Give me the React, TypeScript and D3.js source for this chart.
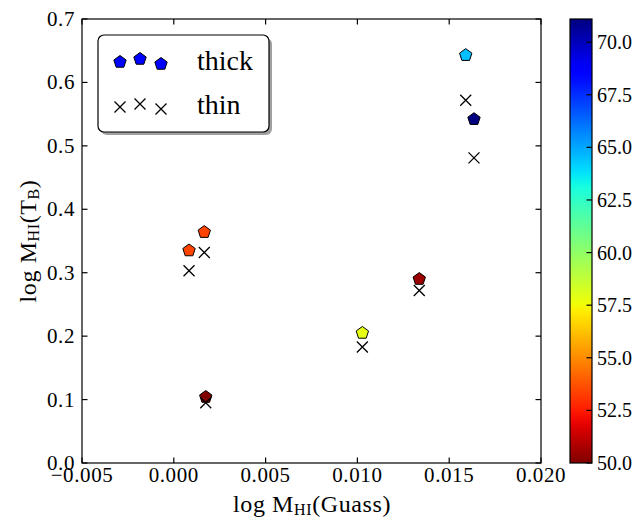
import React from "react";
import * as d3 from "d3";

// ---- data ----
const logMGauss = [0.00083, 0.00166, 0.00174, 0.01027, 0.01337, 0.0159, 0.01635];
const logMThick = [0.335, 0.364, 0.104, 0.205, 0.29, 0.643, 0.542];
const logMThin = [0.303, 0.332, 0.095, 0.183, 0.272, 0.572, 0.481];
const tempValues = [53.4, 53.4, 50.0, 57.8, 50.5, 64.5, 71.1];
const xTicks = [-0.005, 0.0, 0.005, 0.01, 0.015, 0.02];
const yTicks = [0.0, 0.1, 0.2, 0.3, 0.4, 0.5, 0.6, 0.7];
const cbTicks = [50.0, 52.5, 55.0, 57.5, 60.0, 62.5, 65.0, 67.5, 70.0];
const legendLabels = ["thick", "thin"];

const W = 643, H = 522;
const plot = { left: 82, right: 541, top: 19, bottom: 463 };
const cb = { left: 570, right: 592, top: 19, bottom: 463 };
const FONT = "'Liberation Serif', 'Times New Roman', serif";

// matplotlib jet
const jetR = d3.scaleLinear<number>().domain([0, 0.35, 0.66, 0.89, 1]).range([0, 0, 1, 1, 0.5]).clamp(true);
const jetG = d3.scaleLinear<number>().domain([0, 0.125, 0.375, 0.64, 0.91, 1]).range([0, 0, 1, 1, 0, 0]).clamp(true);
const jetB = d3.scaleLinear<number>().domain([0, 0.11, 0.34, 0.65, 1]).range([0.5, 1, 1, 0, 0]).clamp(true);
const jet = (t: number) =>
  d3.rgb(Math.round(jetR(t) * 255), Math.round(jetG(t) * 255), Math.round(jetB(t) * 255)).toString();

const vmin = 50.0, vmax = 71.1;
const norm = d3.scaleLinear().domain([vmin, vmax]).range([0, 1]).clamp(true);
const colorOf = (v: number) => jet(1 - norm(v)); // jet_r

const x = d3.scaleLinear().domain([-0.005, 0.02]).range([plot.left, plot.right]);
const y = d3.scaleLinear().domain([0, 0.7]).range([plot.bottom, plot.top]);
const yc = d3.scaleLinear().domain([vmin, vmax]).range([cb.bottom, cb.top]);

const pentagon = (cx: number, cy: number, r: number) => {
  const pts = d3.range(5).map((k) => {
    const a = (-90 + k * 72) * (Math.PI / 180);
    return [cx + r * Math.cos(a), cy + r * Math.sin(a)];
  });
  return "M" + pts.map((p) => p.join(",")).join("L") + "Z";
};
const cross = (cx: number, cy: number, s: number) =>
  `M${cx - s},${cy - s}L${cx + s},${cy + s}M${cx - s},${cy + s}L${cx + s},${cy - s}`;

const fmtX = (v: number) => {
  const s = Math.abs(v).toFixed(3);
  return v < -1e-12 ? "\u2212" + s : s;
};
const fmtY = (v: number) => v.toFixed(1);

const TICK = 5.5;

export default function App() {
  const stops = d3.range(0, 1.0001, 0.02);
  const legY = [[62, 59, 64], [107, 104, 109]];
  const legX = [120, 140, 161];
  return (
    <svg width={W} height={H} style={{ position: "absolute", left: 0, top: 0, background: "white" }}>
      <defs>
        <linearGradient id="cbgrad" x1="0" y1="1" x2="0" y2="0">
          {stops.map((t, i) => (
            <stop key={i} offset={t} stopColor={jet(1 - t)} />
          ))}
        </linearGradient>
      </defs>
      <rect width={W} height={H} fill="white" />

      {/* axes frame */}
      <rect x={plot.left} y={plot.top} width={plot.right - plot.left} height={plot.bottom - plot.top}
        fill="none" stroke="black" strokeWidth={1.2} />

      {/* x ticks */}
      {xTicks.map((t, i) => (
        <g key={"xt" + i}>
          <line x1={x(t)} x2={x(t)} y1={plot.bottom} y2={plot.bottom - TICK} stroke="black" strokeWidth={1.2} />
          <line x1={x(t)} x2={x(t)} y1={plot.top} y2={plot.top + TICK} stroke="black" strokeWidth={1.2} />
          <text x={x(t)} y={plot.bottom + 19} textAnchor="middle" fontFamily={FONT} fontSize={21}
            letterSpacing={0.6}>{fmtX(t)}</text>
        </g>
      ))}
      {/* y ticks */}
      {yTicks.map((t, i) => (
        <g key={"yt" + i}>
          <line x1={plot.left} x2={plot.left + TICK} y1={y(t)} y2={y(t)} stroke="black" strokeWidth={1.2} />
          <line x1={plot.right} x2={plot.right - TICK} y1={y(t)} y2={y(t)} stroke="black" strokeWidth={1.2} />
          <text x={plot.left - 7} y={y(t) + 7} textAnchor="end" fontFamily={FONT} fontSize={21}
            letterSpacing={0.6}>{fmtY(t)}</text>
        </g>
      ))}

      {/* data: thick */}
      {logMGauss.map((gx, i) => (
        <path key={"p" + i} d={pentagon(x(gx), y(logMThick[i]), 6.5)} fill={colorOf(tempValues[i])}
          stroke="black" strokeWidth={1} />
      ))}
      {/* data: thin */}
      {logMGauss.map((gx, i) => (
        <path key={"c" + i} d={cross(x(gx), y(logMThin[i]), 5.5)} fill="none" stroke="black" strokeWidth={1.3} />
      ))}

      {/* legend */}
      <rect x={101} y={38} width={171} height={97} rx={6} fill="#888" opacity={0.8} />
      <rect x={98} y={35} width={171} height={97} rx={6} fill="white" stroke="black" strokeWidth={1.2} />
      {legX.map((lx, j) => (
        <path key={"lp" + j} d={pentagon(lx, legY[0][j], 6.5)} fill="#0000ff" stroke="black" strokeWidth={1} />
      ))}
      {legX.map((lx, j) => (
        <path key={"lc" + j} d={cross(lx, legY[1][j], 5.5)} fill="none" stroke="black" strokeWidth={1.3} />
      ))}
      <text x={197} y={70} fontFamily={FONT} fontSize={28}>{legendLabels[0]}</text>
      <text x={197} y={114} fontFamily={FONT} fontSize={28}>{legendLabels[1]}</text>

      {/* axis labels */}
      <text x={312} y={512} textAnchor="middle" fontFamily={FONT} fontSize={24} letterSpacing={0.6}>
        log M<tspan fontSize={16} dy={3}>HI</tspan><tspan dy={-3}>(Guass)</tspan>
      </text>
      <text transform={`translate(36, 241) rotate(-90)`} textAnchor="middle"
        fontFamily={FONT} fontSize={24} letterSpacing={0.6}>
        log M<tspan fontSize={16} dy={3}>HI</tspan><tspan dy={-3}>(T</tspan><tspan fontSize={16} dy={3}>B</tspan><tspan dy={-3}>)</tspan>
      </text>

      {/* colorbar */}
      <rect x={cb.left} y={cb.top} width={cb.right - cb.left} height={cb.bottom - cb.top} fill="url(#cbgrad)" />
      <rect x={cb.left} y={cb.top} width={cb.right - cb.left} height={cb.bottom - cb.top} fill="none"
        stroke="black" strokeWidth={1.2} />
      {cbTicks.map((t, i) => (
        <g key={"cb" + i}>
          <line x1={cb.right} x2={cb.right - TICK} y1={yc(t)} y2={yc(t)} stroke="black" strokeWidth={1.2} />
          <text x={cb.right + 5} y={yc(t) + 7} fontFamily={FONT} fontSize={20}>{t.toFixed(1)}</text>
        </g>
      ))}
    </svg>
  );
}
